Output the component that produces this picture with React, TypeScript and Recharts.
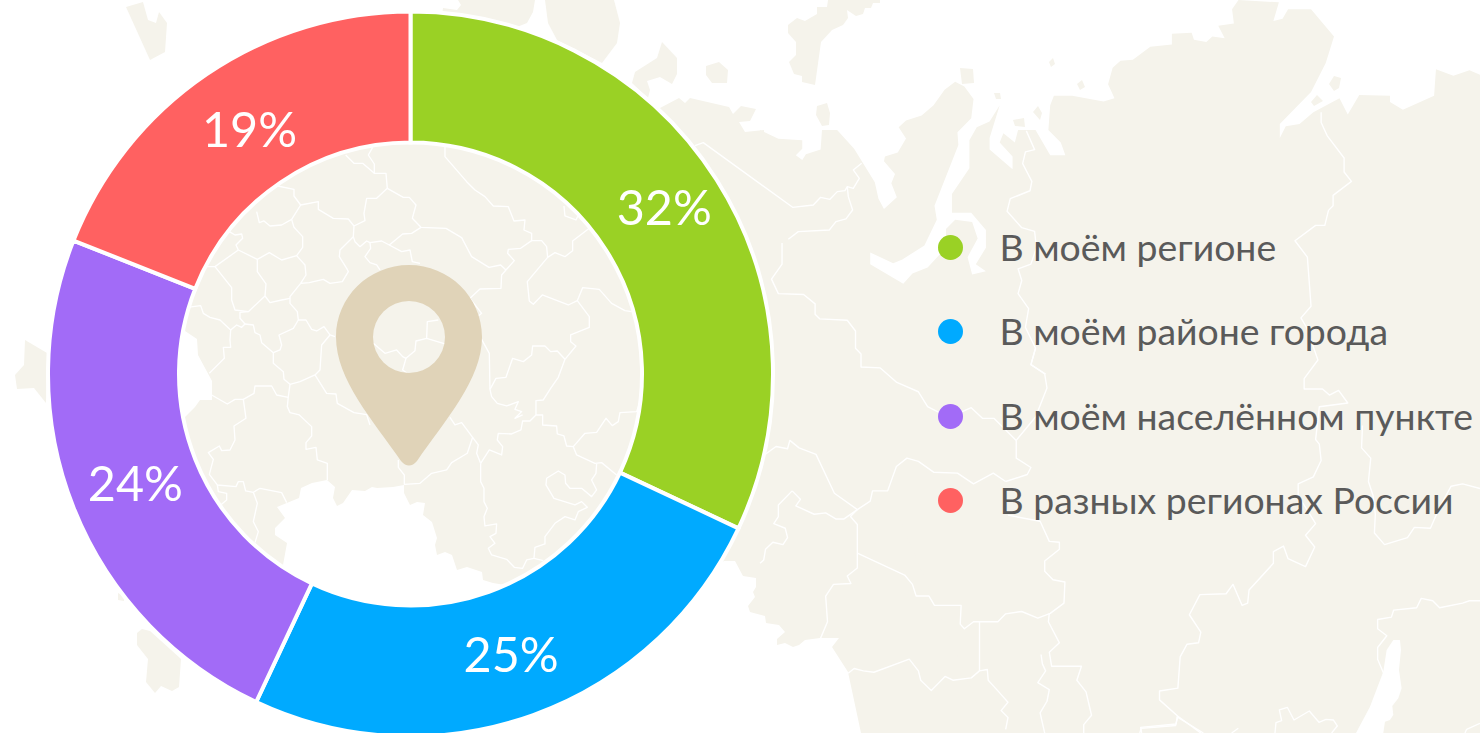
import { PieChart, Pie, Cell, Legend } from 'recharts';

const categories = ['В моём регионе', 'В моём районе города', 'В моём населённом пункте', 'В разных регионах России'];
const shares = [32, 25, 24, 19];
const colors = ['#9ad125', '#00aaff', '#a26bf7', '#ff6161'];

const chartData = categories.map((name, i) => ({ name, value: shares[i] }));

const LAND = '#f5f3eb';
const WIDTH = 1480;
const HEIGHT = 733;

// the labels are not quite on the ring's mid line in the original
const labelNudge = [
  [3, -9],
  [0, 0],
  [1, -1],
  [6, 0],
];

// background map, traced by hand: each group has its own crop scale
const landCentral =
  '660,108 679,98 685,103 690,98 729,107 733,114 741,106 756,109 750,121 739,122 745,132 764,130 766,500 724,561 620,620 505,600 505,585 493,583 483,580 482,572 467,567 457,570 452,555 445,552 437,555 435,545 437,538 432,522 423,515 425,503 417,502 410,505 404,493 404,485 393,487 377,488 372,487 365,491 352,490 343,503 337,506 333,498 335,487 327,480 312,483 301,488 299,498 277,507 285,518 275,528 275,535 287,543 283,565 283,590 190,500 165,425 185,417 195,407 200,400 212,400 212,381 198,355 197,339 185,331 165,320 240,200 410,100 600,100';
const landLower =
  '724,561 735,561 743,576 756,578 756,587 753,592 755,597 748,606 750,612 765,616 766,623 779,625 785,632 777,639 777,645 785,643 793,647 799,645 805,640 820,638 839,638 832,647 848,672 861,733 1000,733 1000,480 700,480';
const landNorth =
  '0,278 40,297 92,300 92,318 78,332 92,342 100,330 132,320 135,278 168,278 205,318 250,390 258,425 270,447 298,422 286,392 294,372 270,345 272,335 300,326 318,296 302,272 318,258 352,247 378,225 402,192 425,175 445,185 465,212 460,253 430,283 432,310 380,440 385,470 358,525 310,555 290,563 240,540 240,565 312,607 332,585 365,572 405,530 405,490 425,470 462,475 474,510 452,550 462,587 492,580 470,565 492,530 492,492 460,455 418,455 418,415 456,360 456,300 472,272 500,260 522,225 500,295 500,320 550,362 550,335 522,305 530,285 555,305 562,278 600,278 632,332 665,332 655,305 628,278 632,225 640,205 680,205 748,217 772,210 758,180 768,145 785,130 812,128 850,100 897,95 897,72 940,70 945,85 972,90 985,78 1012,82 998,55 1032,50 1028,20 1042,0 1130,5 1118,45 1138,40 1150,20 1200,20 1250,78 1232,135 1200,197 1132,265 1132,295 1145,270 1175,265 1205,240 1262,210 1280,245 1305,203 1372,205 1372,218 1400,235 1468,205 1472,148 1510,162 1545,150 1568,160 1568,1568 500,1568 300,1100 0,1100';
const landPieces = [
  '443,8 457,10 461,5 458,0 535,0 533,12 527,23 517,27 480,60 440,30',
  '545,0 548,23 557,40 602,63 617,43 620,23 614,0',
  '662,42 677,58 677,74 672,84 660,77 647,81 650,90 648,98 632,83 635,72 657,58',
  '706,66 719,62 728,70 727,83 712,83 706,75',
  '817,106 827,103 830,113 829,125 822,126 816,115',
  '788,25 797,18 805,21 817,14 817,7 827,7 828,0 880,0 880,3 873,3 871,8 865,8 863,14 856,16 847,10 848,18 843,25 832,30 821,42 815,85 802,82 802,76 794,74 789,62 796,55 796,42 788,33',
  '960,68 973,69 974,83 962,84',
  '994,93 1000,93 1001,99 996,99',
  '1013,120 1024,118 1025,127 1015,126',
  '1033,112 1038,106 1042,113 1040,120',
  '1077,84 1082,80 1085,87 1080,90',
  '1049,62 1053,58 1055,64 1051,67',
  '1311,102 1317,95 1323,101 1314,106',
  '1329,84 1334,76 1341,78 1339,88 1334,91',
  '126,7 143,2 148,20 156,23 159,12 167,23 165,52 150,60',
  '25,340 47,353 46,403 34,388 17,389 15,375 24,365',
  '137,633 142,629 150,631 181,659 179,687 172,691 161,686 155,693 146,682 148,659 137,645',
  '118,593 124,596 124,601 118,600',
];
const baikal = '880,570 900,570 903,600 897,660 905,715 895,745 877,768 880,795 870,810 855,815 850,849 768,849 810,770 850,665 860,600';

const bordersCenter = [
  '795,20 795,50 860,125 885,150 915,170 940,198 985,200 1002,243 1035,240 1032,270 1055,280 1055,302 1085,302 1100,320 1103,352 1125,338 1155,350 1178,332 1178,303 1228,265',
  '1103,352 1042,425 1048,483 1060,493 1087,465 1165,495 1192,482 1208,443 1258,448 1295,490 1335,512 1355,515',
  '1192,482 1228,530 1228,562 1172,585 1172,605 1188,618 1155,658 1135,712 1112,745 1090,780 1068,782 1068,825 1088,825 1088,855 1130,858 1132,882 1152,888 1160,918 1180,920 1215,880 1250,877 1278,835 1297,857 1315,845 1320,818 1370,815 1385,770',
  '1180,920 1190,945 1245,970 1265,968 1310,1005',
  '1250,972 1248,1000 1235,1020 1250,1050 1235,1070 1205,1045 1170,1045 1157,1030 1155,1005 1135,993 1100,1015 1098,1035 1122,1075 1185,1095 1205,1085 1222,1102 1195,1115 1185,1140 1155,1130 1125,1150 1095,1190 1095,1212 1065,1222 1062,1255 1090,1262',
  '1062,1255 1040,1260 1028,1285 1003,1282 980,1258 935,1245 925,1225 945,1210 930,1190 948,1180 950,1152 915,1158 912,1130 922,1105 912,1085 912,1045 902,1025 902,970',
  '902,970 928,930 965,945 968,920 952,900 955,880 995,882 1023,870 1028,843 1050,843 1068,825',
  '1028,825 1005,835 1025,815 1005,808 1015,785 980,798 952,790 935,770 930,748 948,715 978,712 998,655 1030,665 1055,645 1058,618 1095,618 1112,635 1132,633 1155,658',
  '930,748 928,640 905,598',
  '902,970 890,940 895,915 878,892 845,848 825,855 810,832',
  '878,892 862,940 815,968 800,990 755,1000 720,1030 673,1033 673,1005 655,982 655,960',
  '405,705 440,760 468,762 472,790 522,818 560,824 570,855',
  '405,705 360,725 330,733 325,770 322,800 330,818 358,825 395,860 395,888 378,908 378,928 408,922 412,960 442,970 442,1020',
  '330,733 312,718 310,695 280,670 280,638 300,630 305,615 297,585 340,565 355,540 352,515 330,490 330,470 362,430 378,405 375,375 350,347 368,322 368,290 342,262 335,238 362,195 415,185 415,208 460,235 505,237 522,258 520,290 480,330 478,350 500,385 505,395 487,425 450,430 430,418 388,428 362,430',
  '362,195 342,168 342,148 293,138',
  '335,238 305,255 270,258 252,243 238,248 230,215',
  '350,347 305,360 268,338 232,358 175,330 168,315 188,295 185,282 165,285 148,275',
  '175,330 105,380 75,380',
  '105,380 155,443 155,480 165,510 205,515 255,468 258,432 232,395 232,358',
  '255,468 270,488 305,480 330,475',
  '205,515 180,517 180,535 195,552 185,562 170,555 152,570 120,540 90,532 70,520 62,497 22,502',
  '152,570 150,600 152,622 130,622 133,655 88,700',
  '195,552 220,555 225,578 240,585 245,608 280,638',
  '95,765 142,792 165,778 190,778 222,760 225,738 275,738 290,765 325,772',
  '190,778 198,835 162,858 165,900 150,930 125,932 118,918 85,938 100,958 88,1003 112,1035 168,1040 175,1025 190,1025 197,1053 220,1057 240,1045 305,1058 320,1088',
  '112,1035 115,1055 140,1060 140,1080 122,1095',
  '220,1057 232,1090 220,1145 235,1175 225,1208',
  '355,540 378,540 395,568 410,573 432,560 450,585 465,590',
  '450,585 425,615 420,690 405,705',
  '522,258 555,242 552,220 560,175 590,175 622,145 670,172 688,172 708,195 697,235 723,262 798,265 845,293 875,350 927,382 962,375 978,390',
  '723,262 695,280 668,282 628,315 605,303 570,308 560,303 540,320 525,305 520,290',
  '622,145 618,100 583,100 583,72 565,45 578,22',
  '583,100 548,70 522,70 497,45',
  '628,315 665,335 690,330 697,365 720,370',
  '570,308 572,325 555,350 570,368 590,375 600,390',
  '978,390 1003,362 983,340 985,328 1022,325 1055,302',
  '978,390 965,405 963,445 900,447 870,475',
  '870,475 905,520 880,540',
  '580,610 615,640 650,630 668,650 678,655 705,632 708,603 740,595 795,612',
  '740,595 742,545 775,540',
  '678,655 668,690 685,702',
  '1152,198 1155,228 1188,240 1195,225',
];
const bordersTop = [
  '885,437 910,428 1178,622 1240,615 1262,592 1290,598 1312,575 1335,572 1342,560 1360,565 1378,535 1360,510 1385,490',
  '1342,560 1345,590 1358,630 1338,657 1308,665 1288,690 1195,695 1165,718',
];
const bordersRight = [
  '48,520 48,565 25,597 40,628 95,630 120,650 120,672 130,682 190,685 208,708 208,745 220,757 220,785 262,787 298,818 345,838 365,870 395,885 430,885 460,872 485,895 510,895 558,942 600,892 625,830 620,800 590,780 600,745',
  '558,942 558,980 590,1000 582,1015 535,1030',
  '0,980 35,955 60,960 65,942 85,958 122,972 162,1055 212,1090 240,1072 245,1050 278,1050 297,998 320,980 345,987 378,1010 430,1012 465,1035 508,1012 535,1030',
  '212,1090 197,1105 212,1122 212,1215 190,1232 198,1248 160,1250 143,1275 147,1330 132,1365',
  '212,1183 315,1230 332,1250 340,1275 368,1275 380,1295 438,1295 436,1335 445,1345 465,1330 518,1330 535,1313 570,1308 605,1322 632,1312 662,1290 664,1245 638,1240 620,1222 620,1200 652,1175 652,1160 630,1158 610,1115 540,1102',
  '478,1330 478,1435',
  '192,1440 205,1430 225,1435 248,1438 325,1410 345,1435 350,1455 373,1477 403,1447 420,1455 460,1450 478,1435 495,1432 497,1455 520,1480 540,1502 525,1520 540,1535 535,1560',
  '630,1312 628,1330 652,1375 630,1395 635,1425 700,1425 690,1455 710,1480 722,1530 705,1550 705,1568',
  '612,1400 615,1420 622,1435 605,1460 630,1475 625,1500 610,1525 620,1568',
  '70,1050 40,1080 40,1105 30,1120 55,1130 60,1150 50,1165 28,1160 12,1175 8,1198 0,1205',
  '70,1050 88,1068 78,1082 118,1100 143,1097 165,1110 183,1110 212,1090',
  '580,280 598,320 578,325 572,350 592,388 588,408 545,425 538,452 570,487 598,495 602,530 590,565 562,575 570,600 562,628 585,660 578,700 600,745 590,780 622,800',
  '1222,240 1222,262 1235,290 1272,338 1272,368 1288,388 1248,418 1248,440 1238,450 1230,482 1210,482 1165,515 1192,550 1200,655 1178,680 1190,700 1215,770 1185,810 1185,832 1225,832 1240,845 1260,835 1280,862 1218,870 1210,940 1218,950 1222,985 1205,1020 1172,1035 1172,1060 1210,1120 1188,1145 1208,1170 1188,1212 1150,1195 1140,1168 1118,1180 1118,1205 1065,1262 1062,1290 1050,1295 1030,1250 1015,1270 958,1272 935,1315 960,1352 955,1375 930,1378 915,1405 910,1472 870,1478 870,1497 910,1532 905,1552 830,1558 827,1568',
  '910,1532 960,1568',
  '1568,1045 1530,1035 1505,1040 1480,1085 1460,1130 1425,1128 1410,1150 1360,1165 1338,1140 1340,1100 1335,1060 1325,1030 1330,980 1310,958 1312,910',
  '1568,1285 1545,1285 1530,1290 1480,1300 1465,1285 1440,1280 1430,1300 1380,1305 1375,1320 1345,1325 1345,1345 1365,1360 1345,1385 1345,1410 1358,1440',
];
const bordersLow = [
  '230,800 310,849',
  '125,849 122,832 228,822 232,800',
  '415,835 395,849',
  '525,849 528,818 545,812 538,780 562,772 582,810 628,783 657,817 678,808 700,810 712,828 695,849',
  '1140,820 1100,838 1095,849',
];

const pinPath =
  'M409 265C449 265 482 297 482 337C482 380 445 420 417 461Q409 470 401 461C373 420 336 380 336 337C336 297 369 265 409 265ZM409 301A36 36 0 1 0 409 373A36 36 0 1 0 409 301Z';

function MapBackground() {
  const lines = (list: string[], width: number) =>
    list.map((points, i) => (
      <polyline key={i} points={points} fill="none" stroke="#fff" strokeWidth={width} strokeLinejoin="round" />
    ));
  return (
    <svg width={WIDTH} height={HEIGHT} style={{ position: 'absolute', left: 0, top: 0 }}>
      <polygon points={landCentral} fill={LAND} />
      <polygon points={landLower} fill={LAND} />
      {landPieces.map((points, i) => (
        <polygon key={i} points={points} fill={LAND} />
      ))}
      <g transform="translate(760 0) scale(0.4592 0.4675)">
        <polygon points={landNorth} fill={LAND} />
        {lines(bordersRight, 3)}
      </g>
      <g transform="translate(180 140) scale(0.3333)">{lines(bordersCenter, 4)}</g>
      <g transform="translate(400 0) scale(0.3333)">{lines(bordersTop, 4)}</g>
      <g transform="translate(1100 450) scale(0.3333)">
        <polygon points={baikal} fill="#fff" />
        {lines(bordersLow, 4)}
      </g>
      <path d={pinPath} fill="#e0d3b8" fillRule="evenodd" />
    </svg>
  );
}

const RADIAN = Math.PI / 180;

function renderLabel({ cx, cy, midAngle, innerRadius, outerRadius, value, index }: any) {
  const r = (innerRadius + outerRadius) / 2;
  const x = cx + r * Math.cos(-midAngle * RADIAN) + labelNudge[index][0];
  const y = cy + r * Math.sin(-midAngle * RADIAN) + labelNudge[index][1];
  return (
    <text x={x} y={y} fill="#fff" fontSize={48.5} textAnchor="middle" dominantBaseline="central" fontFamily="Lato">
      {value}%
    </text>
  );
}

function renderLegend({ payload }: any) {
  return (
    <div>
      {(payload ?? []).map((entry: any) => (
        <div key={entry.value} style={{ display: 'flex', alignItems: 'center', height: 84.5 }}>
          <span
            style={{ width: 25, height: 25, borderRadius: '50%', background: entry.color, marginRight: 37, flexShrink: 0 }}
          />
          <span style={{ fontFamily: 'Lato', fontSize: 37.4, color: '#5a5a5a', whiteSpace: 'nowrap', position: 'relative', top: -1 }}>
            {entry.value}
          </span>
        </div>
      ))}
    </div>
  );
}

export default function App() {
  return (
    <div style={{ position: 'absolute', left: 0, top: 0, width: WIDTH, height: HEIGHT, overflow: 'hidden', background: '#fff' }}>
      <MapBackground />
      <div style={{ position: 'absolute', left: 0, top: 0 }}>
        <PieChart width={WIDTH} height={HEIGHT} margin={{ top: 0, right: 0, bottom: 0, left: 0 }}>
          <Pie
            data={chartData}
            dataKey="value"
            nameKey="name"
            cx={410.5}
            cy={374}
            innerRadius={231.5}
            outerRadius={362.5}
            startAngle={90}
            endAngle={-270}
            stroke="#fff"
            strokeWidth={4}
            label={renderLabel}
            labelLine={false}
            isAnimationActive={false}
          >
            {chartData.map((entry, i) => (
              <Cell key={entry.name} fill={colors[i]} />
            ))}
          </Pie>
          <Legend
            content={renderLegend}
            itemSorter={null}
            layout="vertical"
            align="right"
            verticalAlign="middle"
            wrapperStyle={{ position: 'absolute', left: 937.5, top: 205, right: 'auto', bottom: 'auto', width: 542 }}
          />
        </PieChart>
      </div>
    </div>
  );
}
